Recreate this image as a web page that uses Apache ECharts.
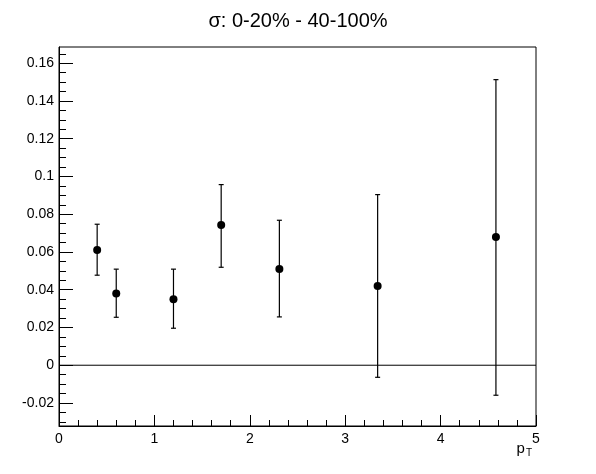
<!DOCTYPE html>
<html>
<head>
<meta charset="utf-8">
<script src="https://cdn.jsdelivr.net/npm/echarts@6/dist/echarts.min.js"></script>
<style>html,body{margin:0;padding:0;background:#fff}#c{width:596px;height:474px}</style>
</head>
<body>
<div id="c"></div>
<script>
// ---- data ----
const ptValues   = [0.4, 0.6, 1.2, 1.7, 2.31, 3.34, 4.58];
const sigmaDiff  = [0.061, 0.038, 0.035, 0.0743, 0.051, 0.042, 0.068];
const errLow     = [0.0477, 0.0254, 0.0196, 0.0519, 0.0256, -0.0064, -0.0159];
const errHigh    = [0.0747, 0.0509, 0.0509, 0.0957, 0.0768, 0.0904, 0.1513];
const yMajorTicks = [-0.02, 0, 0.02, 0.04, 0.06, 0.08, 0.1, 0.12, 0.14, 0.16];
const yMinorTicks = [-0.03, -0.025, -0.015, -0.01, -0.005, 0.005, 0.01, 0.015, 0.025, 0.03, 0.035, 0.045, 0.05, 0.055,
  0.065, 0.07, 0.075, 0.085, 0.09, 0.095, 0.105, 0.11, 0.115, 0.125, 0.13, 0.135, 0.145, 0.15, 0.155, 0.165];
const yMin = -0.0322, yMax = 0.1686;
const xMin = 0, xMax = 5;
const titleText = 'σ: 0-20% - 40-100%';

const FONT = 'Liberation Sans, Arial, Helvetica, sans-serif';
const chart = echarts.init(document.getElementById('c'), null, {renderer: 'canvas'});

const errData = ptValues.map((x, i) => [x, errLow[i], errHigh[i]]);
const pointData = ptValues.map((x, i) => [x, sigmaDiff[i]]);

chart.setOption({
  animation: false,
  backgroundColor: '#fff',
  title: {
    text: titleText, left: 'center', top: 6,
    textStyle: {fontFamily: FONT, fontSize: 20, fontWeight: 'normal', color: '#000'}
  },
  grid: {left: 59, right: 60, top: 47, bottom: 48, show: true, borderColor: '#000', borderWidth: 1, backgroundColor: 'transparent'},
  xAxis: {
    type: 'value', min: xMin, max: xMax, interval: 1,
    axisLine: {show: true, onZero: false, lineStyle: {color: '#000', width: 1}},
    axisTick: {show: true, inside: true, length: 11, lineStyle: {color: '#000'}},
    minorTick: {show: true, splitNumber: 5, length: 6, lineStyle: {color: '#000'}},
    splitLine: {show: false},
    axisLabel: {color: '#000', fontFamily: FONT, fontSize: 14, margin: 6}
  },
  yAxis: [{
    type: 'value', min: yMin, max: yMax,
    axisLine: {show: true, onZero: false, lineStyle: {color: '#000', width: 1}},
    axisTick: {show: true, inside: true, length: 14, customValues: yMajorTicks, lineStyle: {color: '#000'}},
    splitLine: {show: false},
    axisLabel: {color: '#000', fontFamily: FONT, fontSize: 14, margin: 5, customValues: yMajorTicks,
      formatter: v => String(Math.round(v * 1000) / 1000)}
  }, {
    type: 'value', min: yMin, max: yMax, position: 'left',
    axisLine: {show: false, onZero: false},
    axisTick: {show: true, inside: true, length: 7, customValues: yMinorTicks, lineStyle: {color: '#000'}},
    splitLine: {show: false},
    axisLabel: {show: false}
  }],
  graphic: [{
    type: 'text', right: 64, top: 441,
    style: {
      text: '{p|p}{t|T}',
      rich: {
        p: {fontFamily: FONT, fontSize: 15, fill: '#000'},
        t: {fontFamily: FONT, fontSize: 10, fill: '#000', padding: [9, 0, 0, 1]}
      }
    }
  }],
  series: [{
    type: 'line', data: [[xMin, 0], [xMax, 0]], symbol: 'none', silent: true,
    lineStyle: {color: '#000', width: 1}, z: 1
  }, {
    type: 'custom', data: errData, silent: true, z: 2,
    renderItem: function (params, api) {
      const x = api.value(0);
      const lo = api.coord([x, api.value(1)]);
      const hi = api.coord([x, api.value(2)]);
      const cap = 2.5;
      const st = {stroke: '#000', lineWidth: 1.2};
      return {type: 'group', children: [
        {type: 'line', shape: {x1: lo[0], y1: lo[1], x2: hi[0], y2: hi[1]}, style: st},
        {type: 'line', shape: {x1: lo[0] - cap, y1: lo[1], x2: lo[0] + cap, y2: lo[1]}, style: st},
        {type: 'line', shape: {x1: hi[0] - cap, y1: hi[1], x2: hi[0] + cap, y2: hi[1]}, style: st}
      ]};
    }
  }, {
    type: 'scatter', data: pointData, symbol: 'circle', symbolSize: 8, z: 3,
    itemStyle: {color: '#000', opacity: 1}
  }]
});
</script>
</body>
</html>
